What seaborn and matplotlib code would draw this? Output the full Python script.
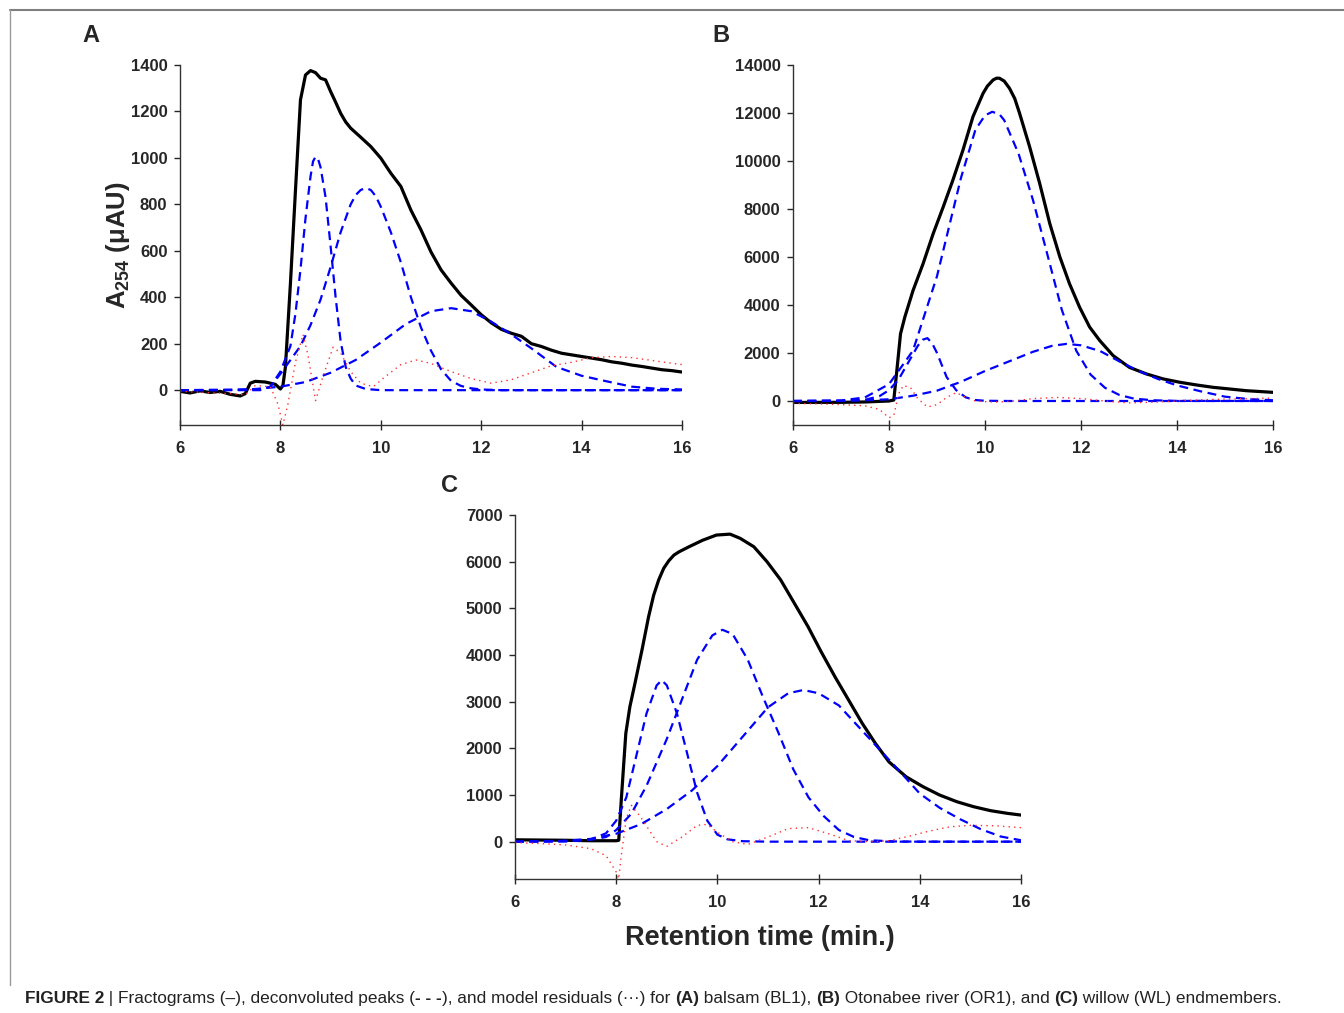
import numpy as np
import pandas as pd
import matplotlib
matplotlib.use("Agg")
import matplotlib.pyplot as plt
import seaborn as sns
from matplotlib.lines import Line2D

# ---- Panel A: balsam (BL1) ----
a_black_t = [6.0, 6.2, 6.4, 6.6, 6.8, 7.0, 7.2, 7.3, 7.4, 7.5, 7.7, 7.9, 8.0, 8.05,
             8.1, 8.2, 8.3, 8.4, 8.5, 8.6, 8.7, 8.8, 8.9, 9.0, 9.1, 9.2, 9.3, 9.4, 9.6, 9.8,
             10.0, 10.2, 10.4, 10.6, 10.8, 11.0, 11.2, 11.4, 11.6, 11.8, 12.0, 12.2,
             12.4, 12.6, 12.8, 13.0, 13.2, 13.4, 13.6, 13.8, 14.0, 14.2, 14.4, 14.6,
             14.8, 15.0, 15.2, 15.4, 15.6, 15.8, 16.0]
a_black_v = [-5, -12, -3, -10, -5, -18, -25, -15, 30, 38, 35, 25, 5, 20,
             100, 460, 860, 1250, 1357, 1376, 1367, 1343, 1336, 1286, 1240, 1192, 1155, 1128, 1089, 1049,
             999, 934, 877, 775, 690, 595, 518, 461, 408, 367, 325, 290,
             262, 245, 232, 200, 188, 172, 159, 152, 145, 138, 131, 122,
             116, 108, 102, 95, 88, 84, 78]

a_pk1_t = [6.0, 7.6, 7.8, 8.0, 8.2, 8.3, 8.4, 8.5, 8.6, 8.65, 8.7, 8.75, 8.8, 8.9, 9.0, 9.1,
           9.2, 9.3, 9.4, 9.5, 9.7, 10.0, 16.0]
a_pk1_v = [0, 0, 15, 80, 190, 330, 520, 740, 920, 985, 1005, 995, 960, 830, 620, 400,
           210, 100, 50, 20, 5, 0, 0]

a_pk2_t = [6.0, 7.6, 7.8, 8.0, 8.2, 8.4, 8.6, 8.8, 9.0, 9.2, 9.4, 9.5, 9.6, 9.7, 9.8, 9.9,
           10.0, 10.2, 10.4, 10.6, 10.8, 11.0, 11.2, 11.4, 11.6, 11.8, 12.0, 12.4, 16.0]
a_pk2_v = [0, 3, 15, 70, 130, 190, 280, 390, 530, 680, 800, 840, 862, 870, 862, 835,
           790, 680, 550, 400, 270, 170, 90, 40, 18, 8, 3, 0, 0]

a_pk3_t = [6.0, 7.0, 7.5, 8.0, 8.5, 9.0, 9.5, 10.0, 10.5, 11.0, 11.4, 11.8, 12.2,
           12.6, 13.0, 13.5, 14.0, 14.5, 15.0, 15.5, 16.0]
a_pk3_v = [0, 1, 5, 15, 35, 75, 130, 205, 285, 340, 353, 340, 295,
           240, 180, 100, 62, 38, 15, 6, 3]

a_res_t = [6.0, 6.5, 7.0, 7.3, 7.5, 7.8, 7.95, 8.05, 8.15, 8.3, 8.45, 8.55, 8.7,
           8.85, 9.05, 9.2, 9.4, 9.6, 9.85, 10.1, 10.4, 10.7, 11.0, 11.4, 11.8,
           12.2, 12.6, 13.0, 13.4, 13.8, 14.2, 14.6, 15.0, 15.5, 16.0]
a_res_v = [-5, -10, -15, -20, 20, 15, -60, -150, -60, 120, 240, 150, -45,
           60, 185, 160, 80, 30, 15, 60, 110, 130, 115, 80, 50,
           30, 45, 75, 105, 120, 140, 145, 140, 125, 110]

# ---- Panel B: Otonabee river (OR1) ----
b_black_t = [6.0, 7.0, 7.5, 8.0, 8.1, 8.17, 8.24, 8.33, 8.5, 8.71, 8.92, 9.13, 9.33,
             9.54, 9.75, 9.96, 10.05, 10.17, 10.24, 10.3, 10.4, 10.51, 10.62, 10.72, 10.93,
             11.14, 11.35, 11.56, 11.76, 11.97, 12.18, 12.39, 12.67, 13.01, 13.36, 13.71,
             14.06, 14.4, 14.75, 15.1, 15.44, 16.0]
b_black_v = [-60, -55, -40, 0, 40, 1400, 2800, 3500, 4600, 5720, 6970, 8090, 9200,
             10450, 11850, 12820, 13120, 13380, 13450, 13450, 13330, 13030, 12600, 11990, 10590,
             9060, 7390, 6000, 4890, 3910, 3080, 2520, 1890, 1400, 1130, 920,
             780, 670, 570, 500, 430, 360]

b_pk1_t = [6.0, 7.0, 7.5, 7.8, 8.0, 8.2, 8.4, 8.6, 8.7, 8.8, 8.9, 9.0, 9.2, 9.4, 9.6, 9.8,
           10.0, 10.5, 16.0]
b_pk1_v = [0, 5, 50, 200, 450, 900, 1600, 2300, 2550, 2620, 2400, 2000, 1000, 450, 150, 40,
           10, 0, 0]

b_pk2_t = [6.0, 7.0, 7.5, 8.0, 8.5, 9.0, 9.5, 9.8, 10.0, 10.15, 10.3, 10.4, 10.7, 11.0,
           11.3, 11.6, 11.9, 12.2, 12.5, 12.8, 13.1, 13.5, 14.0, 16.0]
b_pk2_v = [0, 20, 150, 700, 2100, 5200, 9300, 11300, 11900, 12050, 11950, 11700, 10300, 8370,
           6100, 3800, 2100, 1100, 550, 250, 100, 30, 5, 0]

b_pk3_t = [6.0, 7.0, 7.5, 8.0, 8.5, 9.0, 9.5, 10.0, 10.5, 11.0, 11.4, 11.7, 12.0,
           12.4, 12.8, 13.2, 13.6, 14.0, 14.5, 15.0, 15.5, 16.0]
b_pk3_v = [0, 10, 30, 70, 220, 430, 800, 1250, 1650, 2050, 2300, 2380, 2320,
           2080, 1650, 1250, 920, 650, 400, 180, 80, 30]

b_res_t = [6.0, 6.5, 7.0, 7.5, 7.8, 8.0, 8.1, 8.2, 8.3, 8.45, 8.6, 8.8, 9.0, 9.2,
           9.4, 9.6, 9.8, 10.2, 10.6, 11.0, 11.5, 12.0, 12.5, 13.0, 13.5, 14.0,
           14.5, 15.0, 16.0]
b_res_v = [-100, -120, -150, -200, -350, -700, -600, 300, 650, 550, 100, -250, -150, 150,
           350, 150, 0, -50, 0, 100, 150, 100, 0, -80, -50, 0,
           50, 80, 120]

# ---- Panel C: willow (WL) ----
c_black_t = [6.0, 6.5, 7.0, 7.5, 8.0, 8.05, 8.1, 8.19, 8.27, 8.37, 8.51, 8.64, 8.74, 8.84,
             8.94, 9.04, 9.14, 9.24, 9.44, 9.71, 9.98, 10.25, 10.45, 10.72, 10.98, 11.25,
             11.52, 11.79, 12.05, 12.32, 12.59, 12.86, 13.12, 13.39, 13.73, 14.06, 14.39,
             14.73, 15.06, 15.4, 15.73, 16.0]
c_black_v = [40, 35, 30, 20, 20, 30, 890, 2320, 2890, 3390, 4110, 4820, 5280, 5610,
             5860, 6020, 6140, 6210, 6320, 6460, 6570, 6590, 6500, 6320, 6000, 5610,
             5110, 4610, 4070, 3540, 3040, 2540, 2110, 1710, 1390, 1180, 1000,
             857, 750, 664, 607, 570]

c_pk1_t = [6.0, 7.0, 7.5, 7.8, 8.0, 8.2, 8.4, 8.6, 8.8, 8.9, 9.0, 9.2, 9.4, 9.6,
           9.8, 10.0, 10.2, 10.5, 11.0, 16.0]
c_pk1_v = [0, 5, 50, 180, 450, 950, 1850, 2750, 3350, 3460, 3350, 2750, 1900, 1050,
           450, 150, 50, 10, 0, 0]

c_pk2_t = [6.0, 7.0, 7.5, 7.8, 8.0, 8.3, 8.6, 9.0, 9.3, 9.6, 9.9, 10.1, 10.3, 10.6,
           10.9, 11.2, 11.5, 11.8, 12.1, 12.4, 12.7, 13.0, 13.5, 14.0, 16.0]
c_pk2_v = [0, 10, 40, 100, 250, 600, 1200, 2200, 3050, 3900, 4420, 4540, 4450, 3900,
           3100, 2350, 1550, 950, 550, 250, 100, 30, 5, 0, 0]

c_pk3_t = [6.0, 7.0, 7.5, 8.0, 8.5, 9.0, 9.5, 10.0, 10.5, 11.0, 11.4, 11.7, 12.0,
           12.4, 12.8, 13.2, 13.6, 14.0, 14.4, 14.8, 15.2, 15.6, 16.0]
c_pk3_v = [0, 20, 60, 170, 380, 700, 1100, 1620, 2250, 2880, 3180, 3250, 3180,
           2920, 2450, 1980, 1510, 1030, 720, 480, 270, 110, 30]

c_res_t = [6.0, 6.5, 7.0, 7.5, 7.8, 8.0, 8.05, 8.1, 8.2, 8.3, 8.5, 8.8, 9.0, 9.3,
           9.6, 9.8, 10.0, 10.3, 10.6, 11.0, 11.4, 11.8, 12.2, 12.6, 13.0, 13.4,
           13.8, 14.2, 14.6, 15.0, 15.5, 16.0]
c_res_v = [-20, -40, -70, -150, -300, -650, -800, -300, 500, 780, 500, 0, -100, 100,
           350, 370, 200, 0, -60, 100, 280, 300, 170, 20, 0, 20,
           120, 230, 320, 350, 340, 300]

panels = {
    "A": dict(black=(a_black_t, a_black_v),
              peaks=[(a_pk1_t, a_pk1_v), (a_pk2_t, a_pk2_v), (a_pk3_t, a_pk3_v)],
              res=(a_res_t, a_res_v), ylim=(-150, 1400), yticks=range(0, 1401, 200)),
    "B": dict(black=(b_black_t, b_black_v),
              peaks=[(b_pk1_t, b_pk1_v), (b_pk2_t, b_pk2_v), (b_pk3_t, b_pk3_v)],
              res=(b_res_t, b_res_v), ylim=(-1000, 14000), yticks=range(0, 14001, 2000)),
    "C": dict(black=(c_black_t, c_black_v),
              peaks=[(c_pk1_t, c_pk1_v), (c_pk2_t, c_pk2_v), (c_pk3_t, c_pk3_v)],
              res=(c_res_t, c_res_v), ylim=(-800, 7000), yticks=range(0, 7001, 1000)),
}

# axes rectangles in figure pixels (left, right, top, bottom)
W, H = 1344, 1013
boxes = {"A": (180, 682, 65, 425), "B": (793, 1273, 65, 425), "C": (515, 1021, 515, 879)}

sns.set_style("ticks")
plt.rcParams["font.family"] = ["Liberation Sans", "DejaVu Sans"]
plt.rcParams["mathtext.fontset"] = "custom"
plt.rcParams["mathtext.bf"] = "Liberation Sans:bold"
plt.rcParams["mathtext.rm"] = "Liberation Sans"

fig = plt.figure(figsize=(W / 100, H / 100), dpi=100)

for key, p in panels.items():
    l, r, t, b = boxes[key]
    ax = fig.add_axes([l / W, 1 - b / H, (r - l) / W, (b - t) / H])
    bt, bv = p["black"]
    sns.lineplot(x=bt, y=bv, ax=ax, color="black", lw=2.3, sort=False)
    for pt, pv in p["peaks"]:
        sns.lineplot(x=pt, y=pv, ax=ax, color="#0000ff", lw=1.6, sort=False,
                     dashes=False, linestyle=(0, (4, 2.5)))
    rt, rv = p["res"]
    sns.lineplot(x=rt, y=rv, ax=ax, color="#ff3030", lw=1.0, sort=False,
                 linestyle=(0, (1, 3)))
    ax.set_xlim(6, 16)
    ax.set_ylim(*p["ylim"])
    ax.set_xticks(range(6, 17, 2))
    ax.set_yticks(list(p["yticks"]))
    ax.tick_params(axis="x", direction="inout", length=7, width=1, pad=8, labelsize=12)
    ax.tick_params(axis="y", direction="out", length=4, width=1, pad=5, labelsize=12)
    for lab in ax.get_xticklabels() + ax.get_yticklabels():
        lab.set_fontweight("bold")
    sns.despine(ax=ax)
    for s in ("left", "bottom"):
        ax.spines[s].set_linewidth(1.0)
        ax.spines[s].set_color("#333333")
    ax.set_xlabel("")
    ax.set_ylabel("")

# panel letters
fig.text(91 / W, 1 - 36 / H, "A", fontsize=17, fontweight="bold", ha="center", va="center")
fig.text(721 / W, 1 - 36 / H, "B", fontsize=17, fontweight="bold", ha="center", va="center")
fig.text(449 / W, 1 - 486 / H, "C", fontsize=17, fontweight="bold", ha="center", va="center")

# axis titles
fig.text(118 / W, 1 - 245 / H, r"$\mathbf{A_{254}}$ (μAU)", fontsize=18.5, fontweight="bold",
         rotation=90, ha="center", va="center")
fig.text(760 / W, 1 - 938 / H, "Retention time (min.)", fontsize=19.5, fontweight="bold",
         ha="center", va="center")

# frame lines
fig.add_artist(Line2D([10 / W, 1], [1 - 10 / H, 1 - 10 / H], color="#7f7f7f", lw=1.5))
fig.add_artist(Line2D([10 / W, 10 / W], [1 - 10 / H, 1 - 985 / H], color="#9a9a9a", lw=1.0))

# caption with bold runs
parts = [("FIGURE 2", "bold"), (" | ", "normal"),
         ("Fractograms (–), deconvoluted peaks (", "normal"), ("- - -", "bold"),
         ("), and model residuals (···) for ", "normal"), ("(A)", "bold"),
         (" balsam (BL1), ", "normal"), ("(B)", "bold"),
         (" Otonabee river (OR1), and ", "normal"), ("(C)", "bold"),
         (" willow (WL) endmembers.", "normal")]
fig.canvas.draw()
renderer = fig.canvas.get_renderer()
x = 25
for txt, wt in parts:
    tobj = fig.text(x / W, 1 - 998 / H, txt, fontsize=12.4, fontweight=wt,
                    ha="left", va="center", color="#222222")
    bb = tobj.get_window_extent(renderer=renderer)
    x += bb.width

fig.savefig("out.png", dpi=100)
